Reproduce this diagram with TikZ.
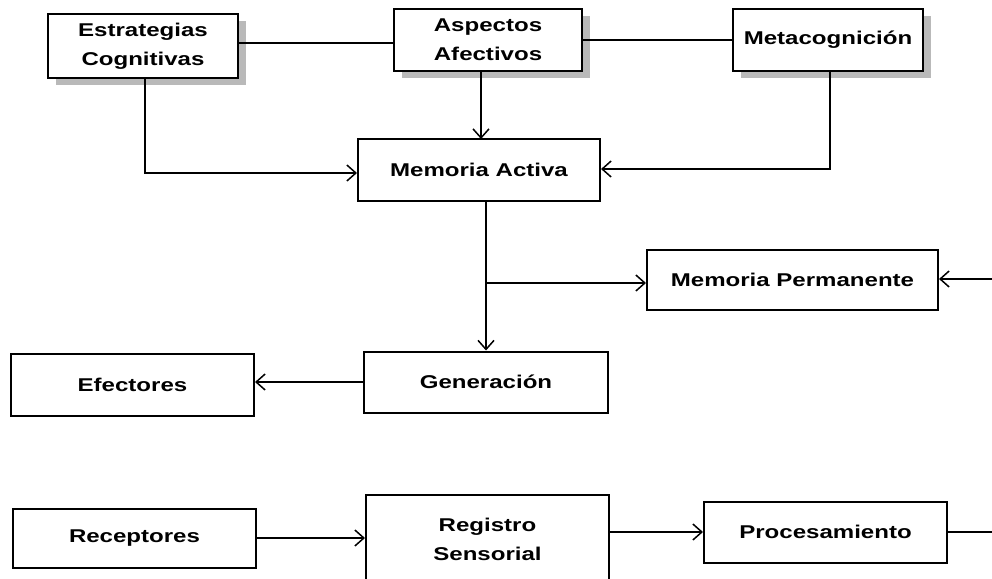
\documentclass[tikz,border=0pt]{standalone}
\usepackage{fontspec}
\newfontfamily\lblfont[FakeStretch=1.3]{Liberation Sans}
\usetikzlibrary{arrows.meta,shadows}
\begin{document}
\begin{tikzpicture}[x=1pt,y=-1pt,
  box/.style={draw=black,line width=2pt,fill=white,align=center,inner sep=0pt,
    font=\lblfont\bfseries\fontsize{18.5}{29}\selectfont},
  shbox/.style={box,drop shadow={shadow xshift=8pt,shadow yshift=-7pt,fill=gray!55,opacity=1}},
  conn/.style={line width=1.6pt},
  arr/.style={conn,-{Straight Barb[length=9pt,width=16pt,line width=1.5pt]}}]
\clip (0,0) rectangle (992,578);
\fill[white] (0,0) rectangle (992,578);
% top row
\node[shbox,minimum width=190,minimum height=63] (est) at (143,46) {Estrategias\\Cognitivas};
\node[shbox,minimum width=188,minimum height=61] (asp) at (488,40) {Aspectos\\Afectivos};
\node[shbox,minimum width=190,minimum height=61] (meta) at (828,40) {Metacognición};
% middle
\node[box,minimum width=242,minimum height=62] (mact) at (479,170) {Memoria Activa};
\node[box,minimum width=291,minimum height=60] (mperm) at (792.5,280) {Memoria Permanente};
\node[box,minimum width=244,minimum height=61] (gen) at (486,382) {Generación};
\node[box,minimum width=243,minimum height=62] (efe) at (132.5,385) {Efectores};
% bottom
\node[box,minimum width=243,minimum height=59] (rec) at (134.5,538) {Receptores};
\node[box,minimum width=243,minimum height=110,anchor=north] (reg) at (487.5,494) {};
\node[box,draw=none,fill=none] (regl) at (487.5,539) {Registro\\Sensorial};
\node[box,minimum width=243,minimum height=61] (proc) at (825.5,532) {Procesamiento};
% free ends
\coordinate (rin) at (992,279);
\coordinate (rout) at (992,532);
\coordinate (br) at (486,283);
% connectors
\draw[conn] (est.east |- 0,43) -- (asp.west |- 0,43);
\draw[conn] (asp.east) -- (asp.east -| meta.west);
\draw[arr] (145,78) |- (mact.west |- 0,173);
\draw[arr] (481,71) -- (481,139);
\draw[arr] (830,70) |- (mact.east |- 0,169);
\draw[arr] (mact.south -| gen.north) -- (gen.north);
\draw[arr] (br) -- (br -| mperm.west);
\draw[arr] (rin) -- (rin -| mperm.east);
\draw[arr] (gen.west) -- (gen.west -| efe.east);
\draw[arr] (rec.east) -- (rec.east -| reg.west);
\draw[arr] (proc.west -| reg.east) -- (proc.west);
\draw[conn] (proc.east) -- (rout);
\end{tikzpicture}
\end{document}
